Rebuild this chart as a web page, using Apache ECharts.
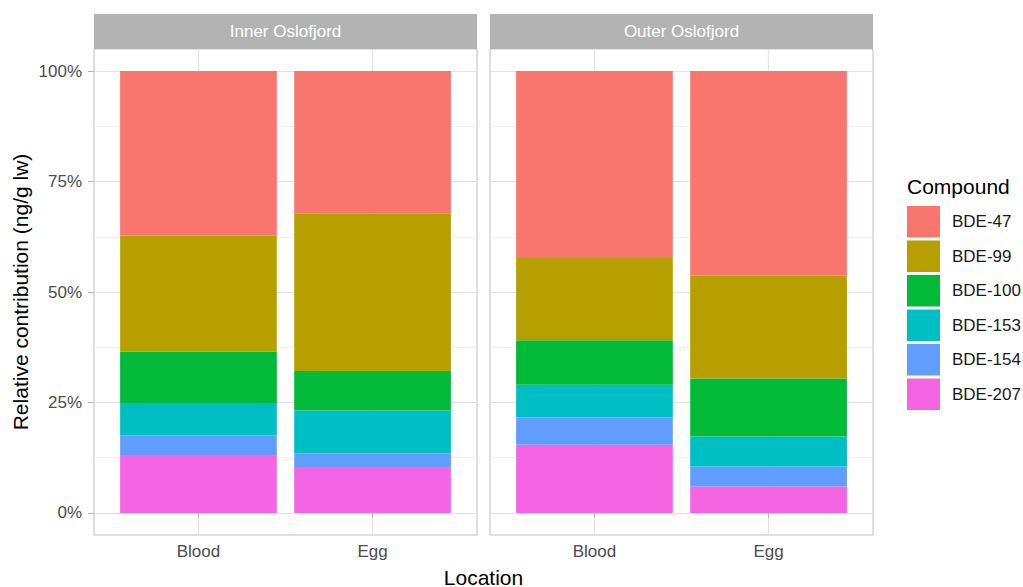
<!DOCTYPE html>
<html>
<head>
<meta charset="utf-8">
<title>Relative contribution of PBDE compounds</title>
<script src="https://cdn.jsdelivr.net/npm/echarts@6/dist/echarts.min.js"></script>
<style>
  html, body { margin: 0; padding: 0; background: #ffffff; }
  #chart { width: 1023px; height: 587px; }
</style>
</head>
<body>
<div id="chart"></div>
<script>
// Categories
const regions = ['Inner Oslofjord', 'Outer Oslofjord'];
const locations = ['Blood', 'Egg'];
const compounds = ['BDE-47', 'BDE-99', 'BDE-100', 'BDE-153', 'BDE-154', 'BDE-207'];

// Relative contribution (%) per compound, in the order of `compounds`
const innerBlood = [37.2, 26.3, 11.6, 7.4, 4.4, 13.1];
const innerEgg   = [32.2, 35.7, 8.9, 9.7, 3.1, 10.4];
const outerBlood = [42.3, 18.6, 10.1, 7.4, 6.2, 15.4];
const outerEgg   = [46.3, 23.3, 13.1, 6.8, 4.5, 6.0];

// Axis ticks
const yTicks = [0, 25, 50, 75, 100];
const yMinorTicks = [12.5, 37.5, 62.5, 87.5];
const xTicks = [1, 2];

const palette = {
  'BDE-47': '#F8766D',
  'BDE-99': '#B79F00',
  'BDE-100': '#00BA38',
  'BDE-153': '#00BFC4',
  'BDE-154': '#619CFF',
  'BDE-207': '#F564E3'
};

const FONT = '"Liberation Sans", Arial, Helvetica, sans-serif';

// Panel geometry: discrete x positions 1..2 expanded by 0.6 on each side
const panelTop = 49;
const panelHeight = 486;
const panelWidth = 383;
const panelLefts = [94, 490];
const stripHeight = 35;
const xMin = 0.4, xMax = 2.6;
const unit = panelWidth / (xMax - xMin);
const yMin = -5, yMax = 105;

const panelData = [
  [innerBlood, innerEgg],
  [outerBlood, outerEgg]
];

// Background panels (border + gridlines) followed by the bar grids
const grids = [];
panelLefts.forEach(left => grids.push({
  left: left, top: panelTop, width: panelWidth, height: panelHeight,
  show: true, backgroundColor: '#ffffff', borderColor: '#BFBFBF', borderWidth: 1,
  outerBoundsMode: 'none'
}));
panelLefts.forEach(left => grids.push({
  left: left + (xTicks[0] - 0.5 - xMin) * unit, top: panelTop, width: 2 * unit, height: panelHeight,
  show: false, outerBoundsMode: 'none'
}));

const xAxes = [];
panelLefts.forEach((_, i) => xAxes.push({
  type: 'value',
  gridIndex: i,
  min: xMin,
  max: xMax,
  axisLine: { show: false },
  axisTick: { show: true, customValues: xTicks, length: 5, lineStyle: { color: '#B3B3B3', width: 1 } },
  axisLabel: {
    show: true,
    customValues: xTicks,
    margin: 8,
    formatter: v => locations[Math.round(v) - 1],
    color: '#4D4D4D',
    fontSize: 17,
    fontFamily: FONT
  },
  splitLine: { show: true, lineStyle: { color: '#E3E3E3', width: 1.2 } }
}));
panelLefts.forEach((_, i) => xAxes.push({
  type: 'category',
  gridIndex: 2 + i,
  data: locations,
  show: false
}));

const yAxes = [];
panelLefts.forEach((_, i) => {
  // major gridlines and labels
  yAxes.push({
    type: 'value',
    gridIndex: i,
    min: yMin,
    max: yMax,
    position: 'left',
    axisLine: { show: false },
    axisTick: { show: i === 0, customValues: yTicks, length: 6, lineStyle: { color: '#B3B3B3', width: 1 } },
    axisLabel: {
      show: i === 0,
      customValues: yTicks,
      margin: 12,
      formatter: v => v + '%',
      color: '#4D4D4D',
      fontSize: 17,
      fontFamily: FONT
    },
    splitLine: { show: true, lineStyle: { color: '#E3E3E3', width: 1.2 } }
  });
  // minor gridlines
  yAxes.push({
    type: 'value',
    gridIndex: i,
    min: yMin,
    max: yMax,
    position: 'right',
    axisLine: { show: false },
    axisTick: { show: false, customValues: yMinorTicks },
    axisLabel: { show: false, customValues: yMinorTicks },
    splitLine: { show: true, lineStyle: { color: '#EFEFEF', width: 0.8 } }
  });
});
panelLefts.forEach((_, i) => yAxes.push({
  type: 'value',
  gridIndex: 2 + i,
  min: yMin,
  max: yMax,
  show: false,
  splitLine: { show: false }
}));

// Stacked from the bottom: BDE-207 first, BDE-47 on top
const series = [];
panelData.forEach((locs, p) => {
  compounds.slice().reverse().forEach(name => {
    const ci = compounds.indexOf(name);
    series.push({
      name: name,
      type: 'bar',
      xAxisIndex: 2 + p,
      yAxisIndex: 4 + p,
      stack: regions[p],
      barCategoryGap: '10%',
      itemStyle: { color: palette[name] },
      emphasis: { disabled: true },
      data: locs.map(vals => vals[ci])
    });
  });
});

const graphics = [];
panelLefts.forEach((left, i) => {
  graphics.push({
    type: 'rect',
    shape: { x: left, y: panelTop - stripHeight, width: panelWidth, height: stripHeight },
    style: { fill: '#B3B3B3' },
    silent: true
  });
  graphics.push({
    type: 'text',
    x: left + panelWidth / 2,
    y: panelTop - stripHeight / 2,
    style: {
      text: regions[i],
      fill: '#ffffff',
      font: '17px ' + FONT,
      textAlign: 'center',
      textVerticalAlign: 'middle',
      align: 'center',
      verticalAlign: 'middle'
    },
    silent: true
  });
});
// Axis titles
graphics.push({
  type: 'text',
  x: (panelLefts[0] + panelLefts[1] + panelWidth) / 2,
  y: 577,
  style: {
    text: 'Location', fill: '#000000', font: '21px ' + FONT,
    textAlign: 'center', textVerticalAlign: 'middle', align: 'center', verticalAlign: 'middle'
  },
  silent: true
});
graphics.push({
  type: 'text',
  x: 20,
  y: panelTop + panelHeight / 2,
  rotation: Math.PI / 2,
  style: {
    text: 'Relative contribution (ng/g lw)', fill: '#000000', font: '21px ' + FONT,
    textAlign: 'center', textVerticalAlign: 'middle', align: 'center', verticalAlign: 'middle'
  },
  silent: true
});
// Legend title
graphics.push({
  type: 'text',
  x: 907,
  y: 186,
  style: {
    text: 'Compound', fill: '#000000', font: '21px ' + FONT,
    textAlign: 'left', textVerticalAlign: 'middle', align: 'left', verticalAlign: 'middle'
  },
  silent: true
});

const chart = echarts.init(document.getElementById('chart'), null, { renderer: 'svg', width: 1023, height: 587 });
chart.setOption({
  animation: false,
  backgroundColor: '#ffffff',
  textStyle: { fontFamily: FONT },
  grid: grids,
  xAxis: xAxes,
  yAxis: yAxes,
  legend: {
    data: compounds,
    orient: 'vertical',
    left: 907,
    top: 206,
    padding: 0,
    itemWidth: 33,
    itemHeight: 31.5,
    itemGap: 3,
    icon: 'rect',
    selectedMode: false,
    textStyle: { fontSize: 17, color: '#1A1A1A', fontFamily: FONT, padding: [0, 0, 0, 7] }
  },
  graphic: graphics,
  series: series
});
</script>
</body>
</html>
